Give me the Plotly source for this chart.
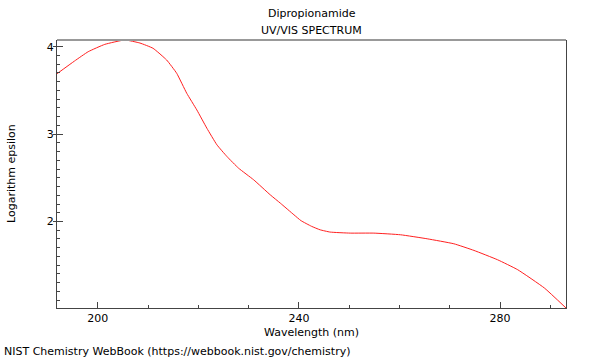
import plotly.graph_objects as go

wavelength = [191.9, 195.4, 198.1, 201.4, 205.4, 208.4, 211.0, 213.7, 215.7, 217.7,
              219.7, 221.7, 223.7, 225.7, 228.0, 231.0, 234.3, 236.3, 239.0, 240.4,
              242.5, 244.2, 246.2, 250.2, 254.9, 260.2, 265.5, 270.8, 274.8, 279.5,
              283.5, 288.8, 293.1]
log_eps = [3.691, 3.837, 3.943, 4.027, 4.077, 4.042, 3.982, 3.848, 3.696, 3.467,
           3.277, 3.067, 2.877, 2.743, 2.610, 2.477, 2.305, 2.210, 2.077, 2.010,
           1.945, 1.905, 1.879, 1.867, 1.867, 1.848, 1.802, 1.745, 1.669, 1.562,
           1.448, 1.239, 1.010]

x_range = [191.9, 293.1]
y_range = [1.010, 4.077]

FONT = "DejaVu Sans"
FS = 11
AX = "#444444"

fig = go.Figure()
fig.add_trace(go.Scatter(x=wavelength, y=log_eps, mode="lines",
                         line=dict(color="#ff2020", width=1, shape="spline", smoothing=0.4),
                         showlegend=False, hoverinfo="skip"))
# invisible trace to activate overlay axis for outside part of y major ticks
fig.add_trace(go.Scatter(x=[x_range[0]], y=[y_range[0]], yaxis="y2", mode="markers",
                         marker=dict(opacity=0), showlegend=False, hoverinfo="skip"))

fig.update_layout(
    width=600, height=360,
    margin=dict(l=57, r=34, t=40, b=52),
    paper_bgcolor="white", plot_bgcolor="white",
    font=dict(family=FONT, size=FS, color="black"),
    xaxis=dict(range=x_range, tick0=200, dtick=40, ticks="inside", ticklen=6,
               tickcolor=AX, showline=True, linecolor=AX, linewidth=1,
               showgrid=False, zeroline=False,
               minor=dict(dtick=10, tick0=200, ticks="inside", ticklen=3, tickcolor=AX, showgrid=False)),
    yaxis=dict(range=y_range, tick0=2, dtick=1, ticks="inside", ticklen=6,
               tickcolor=AX, showline=True, linecolor=AX, linewidth=1, mirror=True,
               showgrid=False, zeroline=False,
               minor=dict(dtick=0.1, ticks="inside", ticklen=3, tickcolor=AX, showgrid=False)),
    yaxis2=dict(range=y_range, overlaying="y", side="left", tick0=2, dtick=1,
                ticks="outside", ticklen=3, tickcolor=AX, showticklabels=False,
                showgrid=False, zeroline=False, showline=False),
    shapes=[dict(type="line", xref="paper", yref="paper", x0=0, x1=1, y0=1, y1=1,
                 line=dict(color="#999999", width=2))],
    annotations=[
        dict(text="Dipropionamide", xref="paper", yref="paper", x=0.5, y=1,
             yshift=27, xanchor="center", yanchor="middle", showarrow=False,
             font=dict(family=FONT, size=FS)),
        dict(text="UV/VIS SPECTRUM", xref="paper", yref="paper", x=0.5, y=1,
             yshift=10, xanchor="center", yanchor="middle", showarrow=False,
             font=dict(family=FONT, size=FS)),
        dict(text="Wavelength (nm)", xref="paper", yref="paper", x=0.5, y=0,
             yshift=-24.5, xanchor="center", yanchor="middle", showarrow=False,
             font=dict(family=FONT, size=FS)),
        dict(text="Logarithm epsilon", xref="paper", yref="paper", x=0, y=0.5,
             xshift=-46, xanchor="center", yanchor="middle", textangle=-90, showarrow=False,
             font=dict(family=FONT, size=FS)),
        dict(text="NIST Chemistry WebBook (https://webbook.nist.gov/chemistry)",
             xref="paper", yref="paper", x=0, y=0, xshift=-55, yshift=-43.5,
             xanchor="left", yanchor="middle", showarrow=False,
             font=dict(family=FONT, size=FS)),
    ],
)

fig.write_html("out.html", config={"displayModeBar": False},
               post_script="document.body.style.margin='0px';")
